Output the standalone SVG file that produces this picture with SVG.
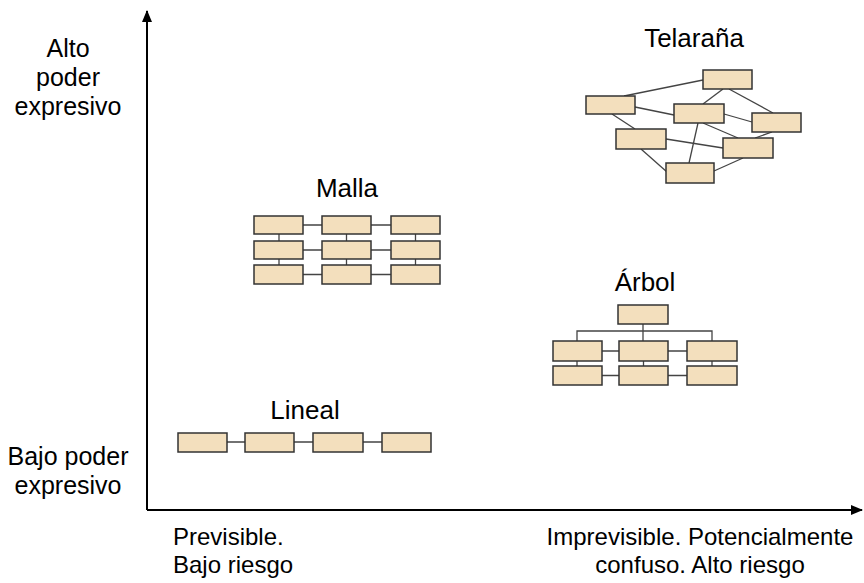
<svg xmlns="http://www.w3.org/2000/svg" width="864" height="583" viewBox="0 0 864 583">
  <style>
    text { font-family: "Liberation Sans", Arial, sans-serif; fill: #000; }
    .axis-label { font-size: 25px; }
    .x-label { font-size: 24px; }
    .title { font-size: 26px; }
    .box { fill: #f3dfbd; stroke: #333; stroke-width: 1.5; }
    .link { stroke: #444; stroke-width: 1.3; fill: none; }
    .axis { stroke: #000; stroke-width: 2; fill: none; }
  </style>
  <defs>
    <marker id="arrow" viewBox="0 0 12 10" refX="11" refY="5" markerWidth="12" markerHeight="10" markerUnits="userSpaceOnUse" orient="auto">
      <path d="M0,0 L12,5 L0,10 Z" fill="#000"/>
    </marker>
  </defs>

  <rect width="864" height="583" fill="#fff"/>

  <!-- axes -->
  <g id="axes">
    <path class="axis" d="M147,510 L147,11" marker-end="url(#arrow)"/>
    <path class="axis" d="M147,510 L862,510" marker-end="url(#arrow)"/>
  </g>

  <!-- axis texts -->
  <g id="y-labels" class="axis-label">
    <text x="68" y="57" text-anchor="middle">Alto</text>
    <text x="68" y="86" text-anchor="middle">poder</text>
    <text x="68" y="115" text-anchor="middle">expresivo</text>
    <text x="68" y="465" text-anchor="middle">Bajo poder</text>
    <text x="68" y="494" text-anchor="middle">expresivo</text>
  </g>
  <g id="x-labels" class="x-label">
    <text x="173" y="545">Previsible.</text>
    <text x="173" y="573">Bajo riesgo</text>
    <text x="700" y="545" text-anchor="middle">Imprevisible. Potencialmente</text>
    <text x="700" y="573" text-anchor="middle">confuso. Alto riesgo</text>
  </g>

  <!-- connectors -->
  <g id="connectors">
    <!-- Lineal -->
    <path class="link" d="M227,442 H245 M294,442 H313 M363,442 H382"/>
    <!-- Malla -->
    <path class="link" d="M303,225 H322 M371,225 H391 M303,250 H322 M371,250 H391 M303,274.5 H322 M371,274.5 H391"/>
    <path class="link" d="M279,234 V241 M346.5,234 V241 M415.5,234 V241 M279,259 V265 M346.5,259 V265 M415.5,259 V265"/>
    <!-- Árbol -->
    <path class="link" d="M643,324 V331 M577,341 V331 H712 V341 M643,331 V341"/>
    <path class="link" d="M602,351 H619 M668,351 H687 M602,375.5 H619 M668,375.5 H687"/>
    <path class="link" d="M577,361 V366 M643.5,361 V366 M712,361 V366"/>
    <!-- Telaraña -->
    <path class="link" d="M624,96 L703,80"/>
    <path class="link" d="M723,89 L703,104"/>
    <path class="link" d="M729,89 L773,113"/>
    <path class="link" d="M635,107 L674,115"/>
    <path class="link" d="M612,114 L635,129"/>
    <path class="link" d="M724,114 L752,122"/>
    <path class="link" d="M703,123 L738,138"/>
    <path class="link" d="M698,123 L689,163"/>
    <path class="link" d="M666,139 L723,148"/>
    <path class="link" d="M641,149 L667,172"/>
    <path class="link" d="M714,171 L743,158"/>
    <path class="link" d="M772,132 L755,138"/>
  </g>

  <!-- Lineal -->
  <g id="lineal">
    <text class="title" x="305" y="419" text-anchor="middle">Lineal</text>
    <rect class="box" x="178" y="433" width="49" height="19"/>
    <rect class="box" x="245" y="433" width="49" height="19"/>
    <rect class="box" x="313" y="433" width="50" height="19"/>
    <rect class="box" x="382" y="433" width="49" height="19"/>
  </g>

  <!-- Malla -->
  <g id="malla">
    <text class="title" x="347" y="197" text-anchor="middle">Malla</text>
    <rect class="box" x="254" y="216" width="49" height="18"/>
    <rect class="box" x="322" y="216" width="49" height="18"/>
    <rect class="box" x="391" y="216" width="49" height="18"/>
    <rect class="box" x="254" y="241" width="49" height="18"/>
    <rect class="box" x="322" y="241" width="49" height="18"/>
    <rect class="box" x="391" y="241" width="49" height="18"/>
    <rect class="box" x="254" y="265" width="49" height="19"/>
    <rect class="box" x="322" y="265" width="49" height="19"/>
    <rect class="box" x="391" y="265" width="49" height="19"/>
  </g>

  <!-- Árbol -->
  <g id="arbol">
    <text class="title" x="645" y="291" text-anchor="middle">Árbol</text>
    <rect class="box" x="618" y="305" width="50" height="19"/>
    <rect class="box" x="553" y="341" width="49" height="20"/>
    <rect class="box" x="619" y="341" width="49" height="20"/>
    <rect class="box" x="687" y="341" width="50" height="20"/>
    <rect class="box" x="553" y="366" width="49" height="19"/>
    <rect class="box" x="619" y="366" width="49" height="19"/>
    <rect class="box" x="687" y="366" width="50" height="19"/>
  </g>

  <!-- Telaraña -->
  <g id="telarana">
    <text class="title" x="694" y="47" text-anchor="middle">Telaraña</text>
    <rect class="box" x="703" y="70" width="49" height="19"/>
    <rect class="box" x="586" y="96" width="49" height="18"/>
    <rect class="box" x="674" y="104" width="50" height="19"/>
    <rect class="box" x="752" y="113" width="49" height="19"/>
    <rect class="box" x="616" y="129" width="50" height="20"/>
    <rect class="box" x="723" y="138" width="50" height="20"/>
    <rect class="box" x="666" y="163" width="48" height="20"/>
  </g>
</svg>
